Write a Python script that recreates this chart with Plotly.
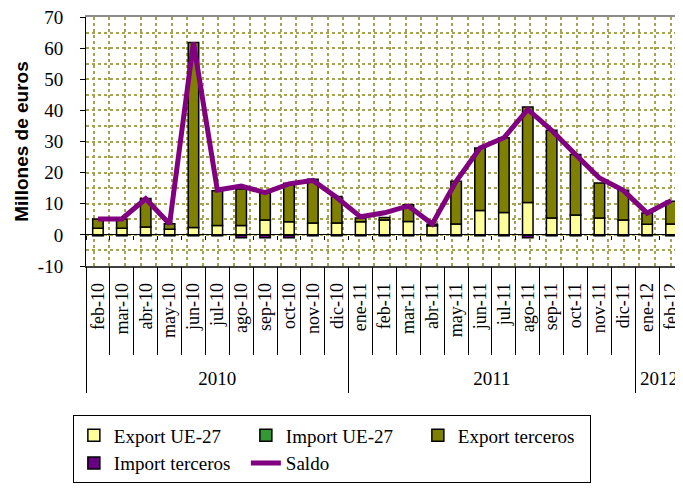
import plotly.graph_objects as go

months = ["feb-10", "mar-10", "abr-10", "may-10", "jun-10", "jul-10", "ago-10", "sep-10",
          "oct-10", "nov-10", "dic-10", "ene-11", "feb-11", "mar-11", "abr-11", "may-11",
          "jun-11", "jul-11", "ago-11", "sep-11", "oct-11", "nov-11", "dic-11", "ene-12", "feb-12"]
years = ["2010"] * 11 + ["2011"] * 12 + ["2012"] * 2
y_ticks = [-10, 0, 10, 20, 30, 40, 50, 60, 70]
y_tick_labels = ["-10", "0", "10", "20", "30", "40", "50", "60", "70"]

export_ue27 = [2.1, 2.1, 2.5, 1.8, 2.4, 3.0, 3.0, 4.8, 4.2, 3.8, 3.8, 4.2, 4.8, 4.3, 2.9,
               3.5, 7.8, 7.2, 10.4, 5.4, 6.4, 5.4, 4.8, 3.4, 3.5]
import_ue27 = [-0.1, -0.1, -0.1, -0.1, -0.1, -0.1, -0.1, -0.1, -0.1, -0.1, -0.1, -0.1, -0.1,
               -0.1, -0.1, -0.1, -0.1, -0.1, -0.1, -0.1, -0.1, -0.1, -0.1, -0.1, -0.1]
export_terceros = [3.0, 3.0, 9.2, 1.8, 59.4, 11.2, 11.7, 8.6, 12.4, 14.1, 8.5, 1.2, 0.8,
                   5.4, 0.5, 13.7, 20.1, 24.0, 30.7, 28.2, 19.4, 11.3, 9.5, 3.6, 7.3]
import_terceros = [-0.2, -0.2, -0.2, -0.2, -0.2, -0.2, -0.8, -0.8, -0.8, -0.2, -0.2, -0.2,
                   -0.2, -0.2, -0.2, -0.2, -0.2, -0.2, -0.8, -0.2, -0.2, -0.2, -0.2, -0.2, -0.2]
saldo = [5.1, 5.1, 11.6, 3.5, 61.8, 14.4, 15.7, 13.6, 16.4, 17.5, 12.0, 5.8, 7.1, 9.3, 3.5,
         17.2, 27.9, 31.2, 40.3, 33.6, 25.8, 18.3, 14.3, 7.0, 11.0]

# year groups derived from the category list (category index positions)
year_names = list(dict.fromkeys(years))
year_idx = [[i for i, yv in enumerate(years) if yv == yn] for yn in year_names]
year_centers = [(ix[0] + ix[-1]) / 2 for ix in year_idx]
year_bounds = [ix[0] - 0.5 for ix in year_idx]

serif = "Liberation Serif"
grid_col = "#a3a355"
n = len(months)

fig = go.Figure()
line = dict(color="black", width=1.5)
fig.add_trace(go.Bar(x=months, y=export_ue27, name="Export UE-27",
                     marker=dict(color="#FFFF99", line=line)))
fig.add_trace(go.Bar(x=months, y=import_ue27, name="Import UE-27",
                     marker=dict(color="#339933", line=line)))
fig.add_trace(go.Bar(x=months, y=export_terceros, name="Export terceros",
                     marker=dict(color="#808000", line=line)))
fig.add_trace(go.Bar(x=months, y=import_terceros, name="Import terceros",
                     marker=dict(color="#660080", line=line)))
fig.add_trace(go.Scatter(x=months, y=saldo, name="Saldo", mode="lines",
                         line=dict(color="#800080", width=5)))

# invisible helper traces so that the overlay axes (grid, separators, years) are drawn
for xa, ya in [("x2", "y"), ("x3", "y2"), ("x4", "y"), ("x5", "y"), ("x6", "y")]:
    fig.add_trace(go.Scatter(x=[0], y=[-50], xaxis=xa, yaxis=ya, mode="markers",
                             marker=dict(opacity=0), showlegend=False, hoverinfo="skip"))

rng = [-0.5, n - 0.5]
fig.update_layout(
    width=675, height=496,
    margin=dict(l=78, r=0, t=9, b=238),
    paper_bgcolor="white", plot_bgcolor="white",
    barmode="relative", bargap=0.56,
    showlegend=True,
    legend=dict(orientation="h", x=-0.022, y=-0.6, xanchor="left", yanchor="top",
                font=dict(family=serif, size=19, color="black"),
                bordercolor="black", borderwidth=1, entrywidth=127,
                itemwidth=30, traceorder="normal", bgcolor="white"),
    xaxis=dict(type="category", range=rng, showline=True, linecolor="#404040",
               linewidth=1.5, ticks="", tickangle=-90, ticklabelstandoff=8,
               showgrid=False, automargin=False,
               tickfont=dict(family=serif, size=18, color="black")),
    yaxis=dict(range=[-10, 70], tickmode="array", tickvals=y_ticks, ticktext=y_tick_labels,
               showline=True, linecolor="black", linewidth=1, ticks="outside", ticklen=5,
               tickcolor="black", ticklabelstandoff=13, automargin=False,
               ticklabeloverflow="allow",
               tickfont=dict(family=serif, size=19, color="black"),
               showgrid=False,
               zeroline=True, zerolinecolor="black", zerolinewidth=1,
               title=dict(text="Millones de euros", standoff=4,
                          font=dict(family="Liberation Sans", size=19, color="black",
                                    weight="bold"))),
    yaxis2=dict(overlaying="y", anchor="x3", range=[-10, 70], tickmode="linear",
                tick0=0, dtick=5, showticklabels=False, ticks="", showgrid=True,
                gridcolor=grid_col, griddash="dot", gridwidth=1.5, zeroline=False,
                showline=False, automargin=False),
    # zero-line ticks at category boundaries
    xaxis2=dict(overlaying="x", anchor="free", position=0.125, side="bottom",
                range=rng, tickmode="linear", tick0=0.5, dtick=1,
                ticks="outside", ticklen=4, tickcolor="black", showticklabels=False,
                showgrid=False, zeroline=False, showline=False, automargin=False),
    # dotted vertical grid and top border
    xaxis3=dict(overlaying="x", anchor="y2", side="top", range=[-0.5, 37.8],
                tickmode="linear", tick0=0, dtick=1, showticklabels=False, ticks="",
                showgrid=True, gridcolor=grid_col, griddash="dot", gridwidth=1.5,
                zeroline=False, showline=True, linecolor="#8c8c8c", linewidth=2,
                automargin=False),
    # month separators below the axis
    xaxis4=dict(overlaying="x", anchor="free", position=0, side="bottom",
                range=rng, tickmode="linear", tick0=0.5, dtick=1,
                ticks="outside", ticklen=88, tickcolor="black", tickwidth=1,
                showticklabels=False, showgrid=False, zeroline=False, showline=False,
                automargin=False),
    # year separators
    xaxis5=dict(overlaying="x", anchor="free", position=0, side="bottom",
                range=rng, tickmode="array", tickvals=year_bounds,
                ticks="outside", ticklen=126, tickcolor="black", tickwidth=1,
                showticklabels=False, showgrid=False, zeroline=False, showline=False,
                automargin=False),
    # year labels
    xaxis6=dict(overlaying="x", anchor="free", position=0, side="bottom",
                range=rng, tickmode="array", tickvals=year_centers, ticktext=year_names,
                ticks="", ticklabelstandoff=99, showgrid=False, zeroline=False,
                showline=False, automargin=False,
                tickfont=dict(family=serif, size=19, color="black")),
)

fig.write_html("out.html")
